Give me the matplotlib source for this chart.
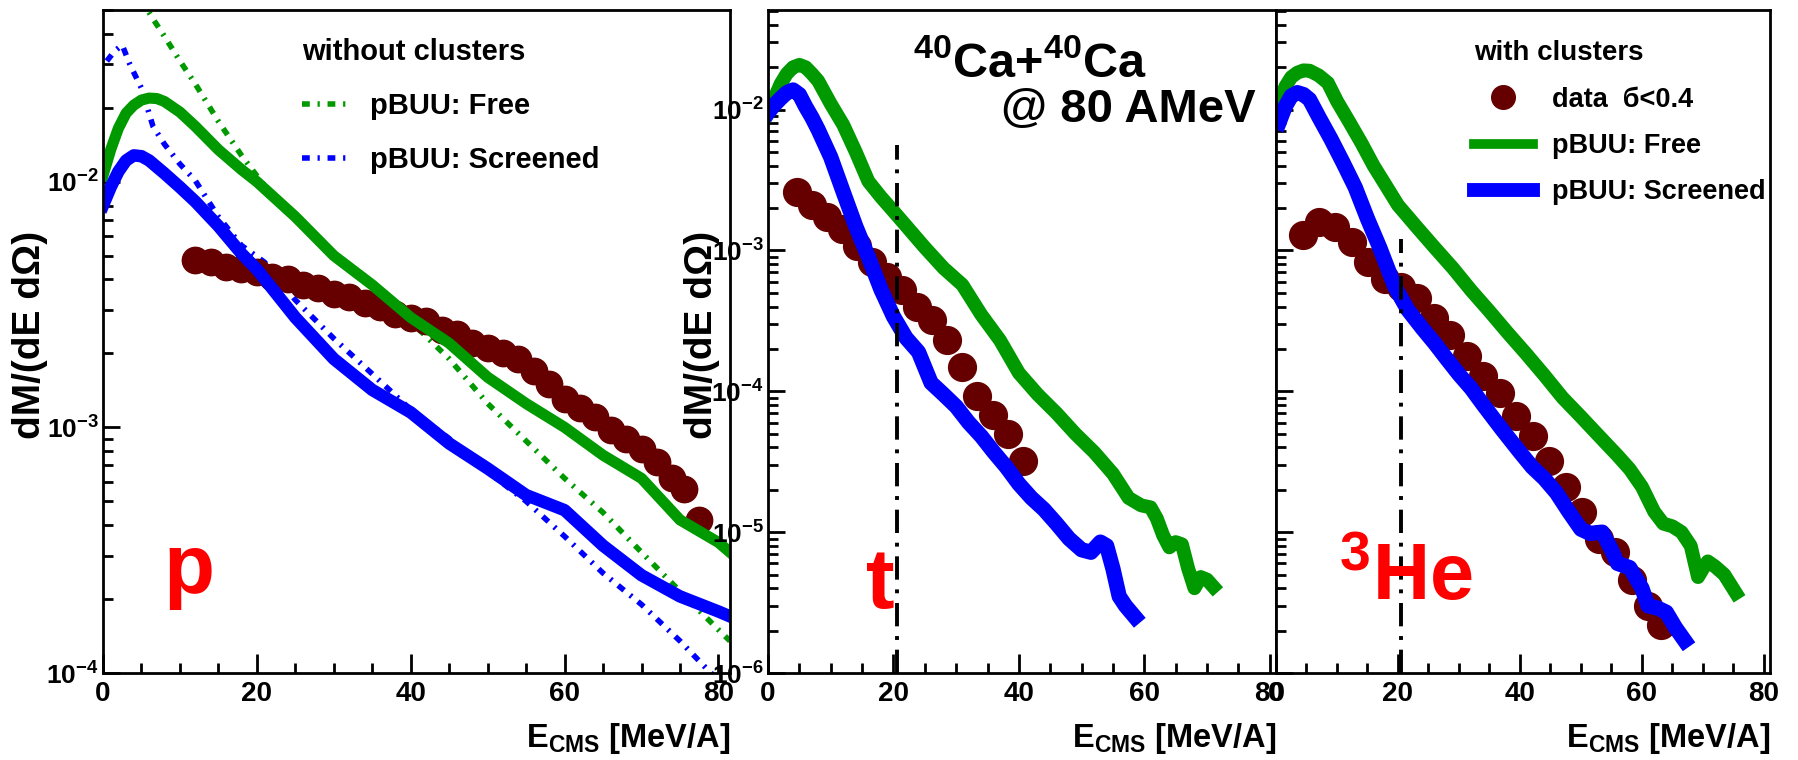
import numpy as np
import matplotlib
matplotlib.use("Agg")
import matplotlib.pyplot as plt
from matplotlib.ticker import MultipleLocator, LogLocator, FuncFormatter, NullFormatter
from matplotlib.lines import Line2D

plt.rcParams['font.family'] = ['Liberation Sans', 'DejaVu Sans']
plt.rcParams['font.weight'] = 'bold'
plt.rcParams['mathtext.fontset'] = 'custom'
plt.rcParams['mathtext.rm'] = 'Liberation Sans:bold'
plt.rcParams['mathtext.bf'] = 'Liberation Sans:bold'
plt.rcParams['mathtext.it'] = 'Liberation Sans:bold:italic'
plt.rcParams['mathtext.sf'] = 'Liberation Sans:bold'

GREEN = '#009900'
BLUE = '#0000ff'
BROWN = '#660000'

# ---- protons (left) ----
p_data_e = [12, 14, 16, 18, 20, 22, 24, 26, 28, 30, 32, 34, 36, 38, 40, 42, 44, 46, 48,
            50, 52, 54, 56, 58, 60, 62, 64, 66, 68, 70, 72, 74, 75.5, 77.5]
p_data = [0.0048, 0.0047, 0.0045, 0.0044, 0.0043, 0.0041, 0.0040, 0.0038, 0.0037, 0.0035,
          0.0034, 0.0032, 0.0031, 0.0029, 0.0028, 0.0027, 0.0025, 0.0024, 0.0022, 0.0021,
          0.0020, 0.0019, 0.0017, 0.0015, 0.0013, 0.0012, 0.0011, 0.00098, 0.00090, 0.00082,
          0.00072, 0.00062, 0.00056, 0.00042]

p_free_e = [0, 1, 2, 3, 4, 5, 6, 7, 8, 10, 12, 15, 18, 20, 25, 30, 35, 40, 45, 50, 55, 60,
            65, 70, 75, 80, 81.5]
p_free = [0.0106, 0.0135, 0.0165, 0.019, 0.0205, 0.0215, 0.0219, 0.0218, 0.0212, 0.0192,
          0.0168, 0.0135, 0.0112, 0.0100, 0.0072, 0.0050, 0.0038, 0.0028, 0.0022, 0.0016,
          0.00125, 0.00100, 0.00077, 0.00062, 0.00042, 0.00034, 0.00031]

p_scr_e = [0, 1, 2, 3, 4, 5, 6, 8, 10, 12, 15, 18, 20, 25, 30, 35, 40, 45, 50, 55, 60, 65,
           70, 75, 80, 81.5]
p_scr = [0.0080, 0.0095, 0.011, 0.0122, 0.0128, 0.0127, 0.0122, 0.0108, 0.0095, 0.0083,
         0.0066, 0.0051, 0.0044, 0.0028, 0.0019, 0.00142, 0.00115, 0.00086, 0.00068,
         0.00053, 0.00046, 0.00033, 0.00025, 0.000205, 0.000178, 0.000170]

p_free_nc_e = [0.5, 2, 3.5, 5, 6.5, 8, 10, 12, 15, 18, 21, 25, 30, 35, 40, 45, 50, 55, 60,
               65, 70, 75, 80, 81.5]
p_free_nc = [0.06, 0.07, 0.065, 0.055, 0.046, 0.039, 0.031, 0.025, 0.0176, 0.0128, 0.0096,
             0.0070, 0.0050, 0.0037, 0.0027, 0.0019, 0.00125, 0.00088, 0.00062, 0.00045,
             0.00031, 0.000215, 0.000150, 0.000135]

p_scr_nc_e = [0.5, 1.5, 2.5, 3.5, 5, 6.5, 8, 10, 12, 15, 18, 21, 25, 30, 35, 40, 45, 50,
              55, 60, 65, 70, 75, 79, 81]
p_scr_nc = [0.031, 0.034, 0.036, 0.030, 0.024, 0.0168, 0.0142, 0.0118, 0.0101, 0.0072,
            0.0055, 0.0047, 0.0033, 0.0023, 0.00165, 0.00118, 0.00090, 0.00066, 0.00050,
            0.00036, 0.000255, 0.000190, 0.000135, 0.000100, 0.000088]

# ---- tritons (middle) ----
t_data_e = [4.6, 7.0, 9.4, 11.8, 14.2, 16.6, 19.0, 21.4, 23.8, 26.2, 28.6, 31.0, 33.4,
            35.8, 38.2, 40.6]
t_data = [0.0026, 0.0021, 0.00172, 0.00142, 0.00108, 0.00083, 0.00065, 0.00052, 0.00040,
          0.00032, 0.00023, 0.000150, 0.000093, 0.000068, 0.000050, 0.000032]

t_free_e = [0, 1, 2, 3, 4, 5, 6, 7, 8, 10, 12, 14, 16, 18, 20, 22, 25, 28, 31, 34, 37, 40,
            43, 46, 49, 52, 55, 57.5, 59.5, 61, 62, 63, 64, 65, 66, 67, 68, 69, 70, 71]
t_free = [0.0095, 0.012, 0.0152, 0.018, 0.0200, 0.0208, 0.0200, 0.0180, 0.0160, 0.0110,
          0.0078, 0.0050, 0.0031, 0.0024, 0.0019, 0.0015, 0.00105, 0.00075, 0.00057,
          0.00035, 0.00023, 0.000135, 0.000095, 0.000070, 0.000050, 0.000037, 0.000026,
          0.0000175, 0.0000155, 0.000015, 0.0000125, 0.0000095, 0.0000078, 0.0000085,
          0.0000082, 0.0000055, 0.0000040, 0.0000048, 0.0000046, 0.0000041]

t_scr_e = [0, 1, 2, 3, 4, 5, 6, 7, 8, 10, 12, 14, 16, 18, 20, 22, 24, 26, 28, 30, 32, 34,
           36, 38, 40, 42, 44, 46, 48, 50, 51.5, 53, 54, 55, 56, 57, 58.5]
t_scr = [0.0095, 0.0108, 0.012, 0.0132, 0.0138, 0.0128, 0.0105, 0.0088, 0.0072, 0.0046,
         0.0026, 0.00148, 0.00090, 0.00053, 0.00034, 0.00024, 0.00019, 0.000115, 0.000095,
         0.000078, 0.000060, 0.000048, 0.000037, 0.000029, 0.000022, 0.0000175, 0.0000145,
         0.0000115, 0.0000090, 0.0000075, 0.0000072, 0.0000085, 0.0000080, 0.0000055,
         0.0000035, 0.0000030, 0.0000025]

# ---- 3He (right) ----
he_data_e = [4.5, 7.0, 9.7, 12.4, 15.1, 17.8, 20.5, 23.2, 25.9, 28.6, 31.3, 34.0, 36.7,
             39.4, 42.1, 44.8, 47.5, 50.2, 52.9, 55.6, 58.3, 61.0, 63.2]
he_data = [0.00128, 0.00160, 0.00148, 0.00115, 0.00083, 0.00063, 0.00055, 0.00046, 0.00033,
           0.000250, 0.000178, 0.000128, 0.000098, 0.000067, 0.000048, 0.000032, 0.000021,
           0.0000140, 0.0000090, 0.0000072, 0.0000046, 0.0000030, 0.0000022]

he_free_e = [0.5, 1.5, 2.5, 3.5, 4.5, 5.5, 7, 8.5, 10, 12, 14, 16, 18, 20, 23, 26, 29, 32,
             35, 38, 41, 44, 47, 50, 53, 56, 58, 60, 62, 63.5, 65, 66.5, 68, 69.2, 70, 70.8,
             72, 73.5, 75.4]
he_free = [0.0100, 0.0145, 0.0170, 0.0183, 0.0190, 0.0189, 0.0175, 0.0155, 0.0115, 0.0082,
           0.0058, 0.0040, 0.0029, 0.0021, 0.00148, 0.00105, 0.00075, 0.00052, 0.00037,
           0.00026, 0.000185, 0.000130, 0.000090, 0.000066, 0.000048, 0.000035, 0.000028,
           0.000021, 0.0000140, 0.0000115, 0.0000110, 0.0000100, 0.0000080, 0.0000048,
           0.0000055, 0.0000062, 0.0000057, 0.0000050, 0.0000037]

he_scr_e = [0.5, 1.5, 2.5, 3.5, 4.5, 5.5, 7, 9, 11, 13, 15, 17, 19.5, 21.6, 24, 26, 28, 30,
            32, 34, 37, 40, 42, 44, 46, 48, 50, 51.5, 53.5, 55, 56, 58, 60, 61, 62.5, 64,
            65.5, 67]
he_scr = [0.0081, 0.0105, 0.0125, 0.0132, 0.0128, 0.0118, 0.0089, 0.0062, 0.0042, 0.0028,
          0.00168, 0.00105, 0.00055, 0.00038, 0.00028, 0.00022, 0.000170, 0.000132,
          0.000105, 0.000080, 0.000054, 0.000037, 0.000029, 0.000024, 0.000019, 0.000014,
          0.0000105, 0.0000098, 0.0000100, 0.0000075, 0.0000060, 0.0000056, 0.0000040,
          0.0000030, 0.0000029, 0.0000027, 0.0000021, 0.0000017]

cut_e = 20.5
cut_top_t = 5.6e-3
cut_top_he = 1.2e-3

DASHDOT = (0, (1.4, 1.4, 0.4, 1.4))
CUTSTYLE = (0, (6, 2.5, 1, 2.5))

fig = plt.figure(figsize=(17.98, 7.6), dpi=100)
ax1 = fig.add_axes([103/1798, 87/760, 627/1798, 663/760])
ax2 = fig.add_axes([768/1798, 87/760, 508/1798, 663/760])
ax3 = fig.add_axes([1276/1798, 87/760, 494/1798, 663/760])


def dec_label(v, pos):
    return r'$\mathbf{10^{%d}}$' % int(round(np.log10(v)))


def style(ax, ylim, xmax, labels=True):
    ax.set_yscale('log')
    ax.set_ylim(*ylim)
    ax.set_xlim(0, xmax)
    ax.xaxis.set_major_locator(MultipleLocator(20))
    ax.xaxis.set_minor_locator(MultipleLocator(5))
    ax.yaxis.set_major_locator(LogLocator(base=10, numticks=20))
    ax.yaxis.set_minor_locator(LogLocator(base=10, subs=np.arange(2, 10), numticks=20))
    ax.yaxis.set_minor_formatter(NullFormatter())
    if labels:
        ax.yaxis.set_major_formatter(FuncFormatter(dec_label))
    else:
        ax.yaxis.set_major_formatter(NullFormatter())
    ax.tick_params(which='both', direction='in', top=False, right=False, width=2)
    ax.tick_params(axis='x', which='major', length=14, pad=6, labelsize=20)
    ax.tick_params(axis='x', which='minor', length=7)
    ax.tick_params(axis='y', which='major', length=12, pad=3, labelsize=19)
    ax.tick_params(axis='y', which='minor', length=7)
    for s in ax.spines.values():
        s.set_linewidth(2)
    ax.set_xlabel(r'E$_{\mathbf{CMS}}$ [MeV/A]', fontsize=23.5, fontweight='bold',
                  ha='right', va='baseline')
    ax.xaxis.set_label_coords(1.0, -0.112)


style(ax1, (1e-4, 0.05), 81.5)
style(ax2, (1e-6, 0.051), 81)
style(ax3, (1e-6, 0.051), 81, labels=False)

ax1.set_ylabel('dM/(dE dΩ)', fontsize=28, fontweight='bold')
ax1.yaxis.set_label_coords(-0.087, 0.51)
ax2.set_ylabel('dM/(dE dΩ)', fontsize=28, fontweight='bold')
ax2.yaxis.set_label_coords(-0.095, 0.51)

# left panel
ax1.plot(p_free_nc_e, p_free_nc, color=GREEN, lw=4, ls=DASHDOT)
ax1.plot(p_scr_nc_e, p_scr_nc, color=BLUE, lw=4, ls=DASHDOT)
ax1.plot(p_data_e, p_data, ls='none', marker='o', ms=19, color=BROWN, mec=BROWN)
ax1.plot(p_free_e, p_free, color=GREEN, lw=8)
ax1.plot(p_scr_e, p_scr, color=BLUE, lw=9)

ax1.legend([Line2D([], [], color=GREEN, lw=4, ls=DASHDOT),
            Line2D([], [], color=BLUE, lw=4, ls=DASHDOT)],
           ['pBUU: Free', 'pBUU: Screened'],
           loc='upper left', bbox_to_anchor=(0.317, 0.958), frameon=False,
           title='without clusters', alignment='left',
           prop={'weight': 'bold', 'size': 21},
           title_fontproperties={'weight': 'bold', 'size': 21},
           handlelength=1.5, handletextpad=0.83, labelspacing=0.9,
           borderaxespad=0, borderpad=0)
ax1.text(7.8, 2.12e-4, 'p', color='red', fontsize=60, fontweight='bold', va='baseline')

# middle panel
ax2.plot(t_data_e, t_data, ls='none', marker='o', ms=20, color=BROWN, mec=BROWN)
ax2.plot(t_free_e, t_free, color=GREEN, lw=10)
ax2.plot(t_scr_e, t_scr, color=BLUE, lw=11)
ax2.vlines(cut_e, 1e-6, cut_top_t, color='black', lw=2.8, linestyles=[CUTSTYLE])
ax2.text(15.6, 2.9e-6, 't', color='red', fontsize=62, fontweight='bold', va='baseline')
ax2.text(0.286, 0.899, r'$^{40}$Ca+$^{40}$Ca', transform=ax2.transAxes, fontsize=35,
         fontweight='bold', va='baseline')
ax2.text(0.96, 0.831, '@ 80 AMeV', transform=ax2.transAxes, fontsize=34,
         fontweight='bold', va='baseline', ha='right')

# right panel
ax3.plot(he_data_e, he_data, ls='none', marker='o', ms=20, color=BROWN, mec=BROWN)
ax3.plot(he_free_e, he_free, color=GREEN, lw=10)
ax3.plot(he_scr_e, he_scr, color=BLUE, lw=11)
ax3.vlines(cut_e, 1e-6, cut_top_he, color='black', lw=2.8, linestyles=[CUTSTYLE])
ax3.text(10.3, 3.3e-6, r'$^{3}$He', color='red', fontsize=57, fontweight='bold',
         va='baseline')
ax3.legend([Line2D([], [], ls='none', marker='o', ms=17, color=BROWN),
            Line2D([], [], color=GREEN, lw=7),
            Line2D([], [], color=BLUE, lw=10)],
           ['data  б<0.4', 'pBUU: Free', 'pBUU: Screened'],
           loc='upper left', bbox_to_anchor=(0.40, 0.954), frameon=False,
           title='with clusters', alignment='left',
           prop={'weight': 'bold', 'size': 19.5},
           title_fontproperties={'weight': 'bold', 'size': 20},
           handlelength=2.2, handletextpad=0.7, labelspacing=0.75,
           borderaxespad=0, borderpad=0)

fig.savefig('out.png', dpi=100)
